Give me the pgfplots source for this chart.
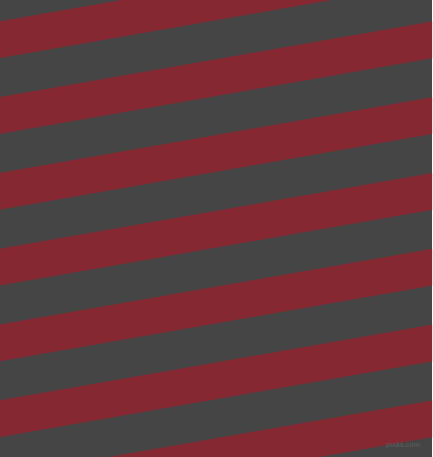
\documentclass[border=0pt]{standalone}
\usepackage{pgfplots}
\pgfplotsset{compat=1.18}
\usepackage{fontspec}
\setmainfont{Liberation Sans}
\definecolor{stripegray}{HTML}{454545}
\definecolor{stripered}{HTML}{852832}
\definecolor{markgray}{HTML}{5A5A5A}

\begin{document}
\begin{tikzpicture}
    \begin{axis}[
            width=432pt, height=457pt,
            scale only axis,
            hide axis,
            xmin=0, xmax=432,
            ymin=0, ymax=457,
            clip bounding box=upper bound,
            axis background/.style={fill=stripegray},
        ]
        % red stripes, one parallelogram each (y measured from the bottom)
        \addplot[draw=none, fill=stripered] coordinates {(0,435.7) (432,511.3) (432,474.6) (0,399.0)} -- cycle;
        \addplot[draw=none, fill=stripered] coordinates {(0,359.9) (432,435.5) (432,398.8) (0,323.2)} -- cycle;
        \addplot[draw=none, fill=stripered] coordinates {(0,284.1) (432,359.7) (432,323.0) (0,247.4)} -- cycle;
        \addplot[draw=none, fill=stripered] coordinates {(0,208.3) (432,283.9) (432,247.2) (0,171.6)} -- cycle;
        \addplot[draw=none, fill=stripered] coordinates {(0,132.5) (432,208.1) (432,171.4) (0,95.8)} -- cycle;
        \addplot[draw=none, fill=stripered] coordinates {(0,56.7) (432,132.3) (432,95.6) (0,20.0)} -- cycle;
        \addplot[draw=none, fill=stripered] coordinates {(0,-19.1) (432,56.5) (432,19.8) (0,-55.8)} -- cycle;
        \node[text=markgray, font=\fontsize{7}{8}\selectfont\bfseries, inner sep=0pt]
            at (axis cs:403,11.5) {pixlis.com};
    \end{axis}
    \pgfresetboundingbox
    \useasboundingbox (current axis.south west) rectangle (current axis.north east);
\end{tikzpicture}
\end{document}
